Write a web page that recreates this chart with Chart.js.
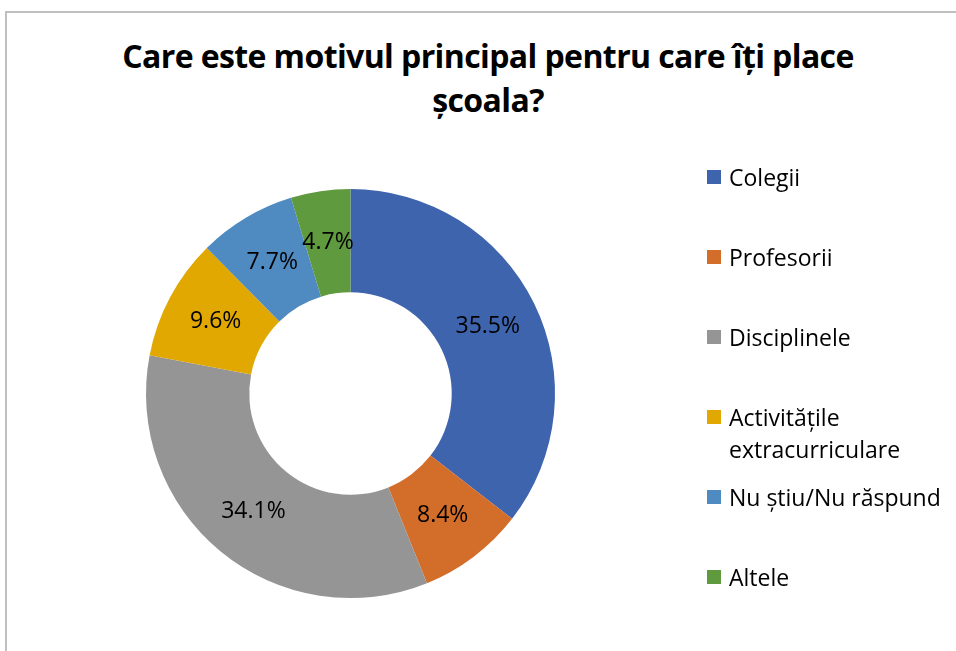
<!DOCTYPE html>
<html>
<head>
<meta charset="utf-8">
<script src="https://cdn.jsdelivr.net/npm/chart.js@4.4.1/dist/chart.umd.min.js"></script>
<style>
  html, body { margin: 0; padding: 0; background: #fff; overflow: hidden; }
  body { width: 956px; height: 651px; position: relative; font-family: "Open Sans", sans-serif; }
  #frame { position: absolute; left: 5px; top: 11px; width: 1000px; height: 1000px; border: 2px solid #bfbfbf; }
  #title { position: absolute; left: 0; width: 976px; top: 34px; text-align: center; font-weight: bold; font-size: 32px; line-height: 44px; color: #000; letter-spacing: -0.6px; }
  #chart { position: absolute; left: 0; top: 0; }
  #legend { position: absolute; left: 707px; top: 161px; width: 245px; }
  .item { position: relative; height: 80px; font-size: 23px; line-height: 32px; color: #000; padding-left: 22px; }
  .item span.box { position: absolute; left: 0; top: 9px; width: 14px; height: 14px; }
</style>
</head>
<body>
<div id="frame"></div>
<div id="title">Care este motivul principal pentru care îți place<br>școala?</div>
<canvas id="chart" width="956" height="651"></canvas>
<div id="legend"></div>
<script>
const categories = ['Colegii', 'Profesorii', 'Disciplinele', 'Activitățile extracurriculare', 'Nu știu/Nu răspund', 'Altele'];
const shares = [35.5, 8.4, 34.1, 9.6, 7.7, 4.7];
const colors = ['#3f64ae', '#d36d2a', '#959595', '#e0a800', '#4f8ac0', '#609a3e'];

const sliceLabels = {
    id: 'sliceLabels',
    afterDatasetsDraw(chart) {
        const ctx = chart.ctx;
        const meta = chart.getDatasetMeta(0);
        ctx.save();
        ctx.font = '23px "Open Sans", sans-serif';
        ctx.fillStyle = '#000';
        ctx.textAlign = 'center';
        ctx.textBaseline = 'middle';
        meta.data.forEach((arc, i) => {
            const pos = arc.tooltipPosition();
            ctx.fillText(shares[i].toFixed(1) + '%', pos.x, pos.y);
        });
        ctx.restore();
    }
};

const chart = new Chart(document.getElementById('chart'), {
    type: 'doughnut',
    data: {
        labels: categories,
        datasets: [{
            data: shares,
            backgroundColor: colors,
            borderWidth: 0,
        }],
    },
    options: {
        responsive: false,
        animation: false,
        cutout: '49.5%',
        layout: { padding: { left: 146, right: 401, top: 189, bottom: 53 } },
        plugins: {
            legend: { display: false },
            tooltip: { enabled: false },
        },
    },
    plugins: [sliceLabels],
});

const legend = document.getElementById('legend');
categories.forEach((name, i) => {
    const item = document.createElement('div');
    item.className = 'item';
    item.innerHTML = `<span class="box" style="background:${colors[i]}"></span>${name}`;
    legend.appendChild(item);
});
</script>
</body>
</html>
